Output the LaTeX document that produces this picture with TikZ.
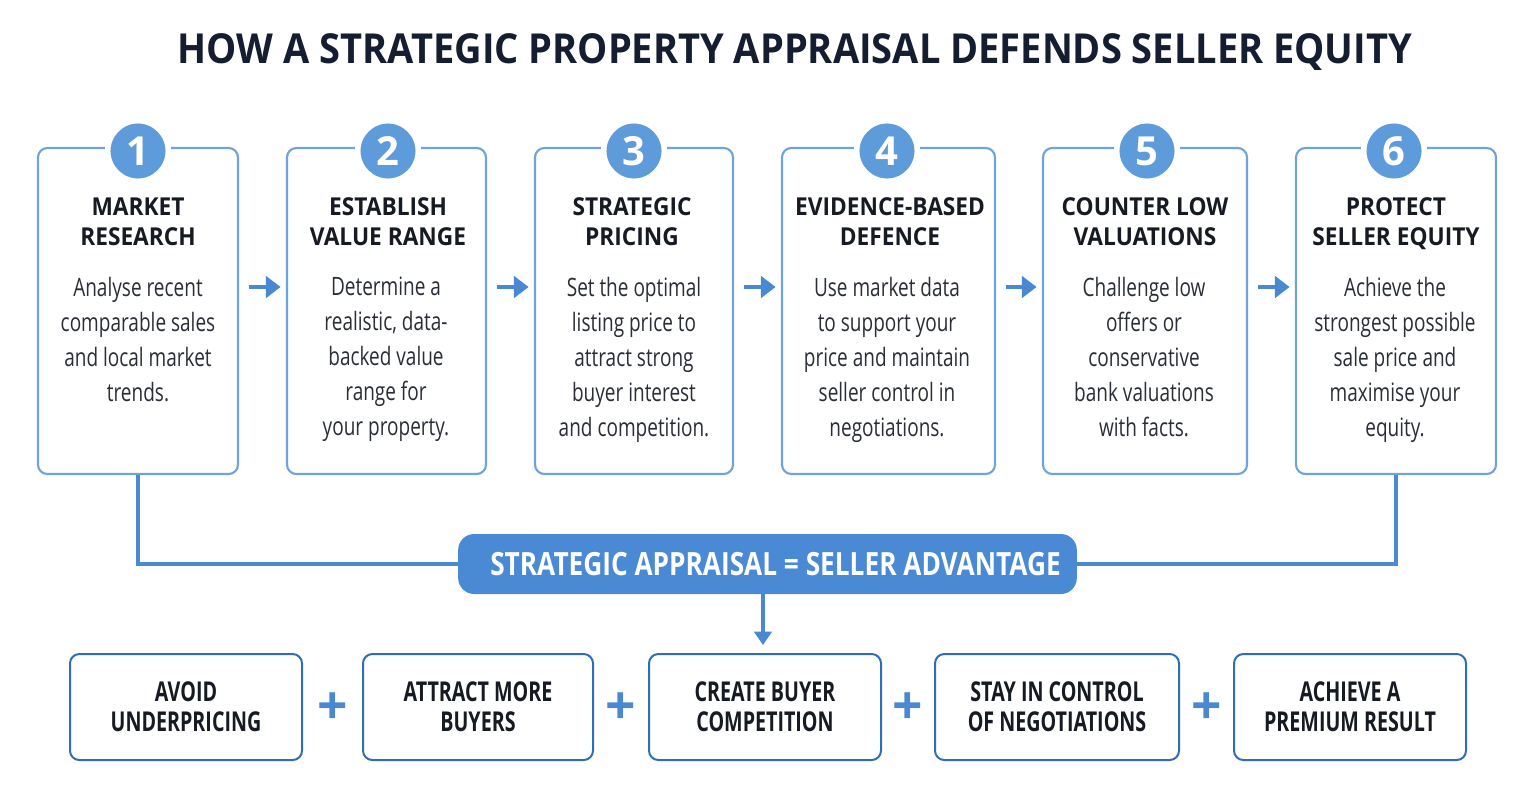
\documentclass[tikz,border=0pt]{standalone}
\usepackage{fontspec}
\setmainfont{Open Sans}
\newfontfamily\titlef[FakeStretch=0.92]{Open Sans}
\newfontfamily\headf[FakeStretch=0.92]{Open Sans}
\newfontfamily\numf{Open Sans}
\newfontfamily\bodyf[FakeStretch=0.75]{Open Sans}
\newfontfamily\condf[FakeStretch=0.72]{Open Sans}
\newfontfamily\bannerf[FakeStretch=0.82]{Open Sans}
\usetikzlibrary{arrows.meta,calc}
\definecolor{boxblue}{HTML}{6FA3DC}
\definecolor{circblue}{HTML}{5E9BDB}
\definecolor{arrblue}{HTML}{4A89D2}
\definecolor{bannerblue}{HTML}{4A8AD4}
\definecolor{darkblue}{HTML}{2F6DB4}
\definecolor{titlecol}{HTML}{151D30}
\definecolor{headcol}{HTML}{161A22}
\definecolor{bodycol}{HTML}{2A2E36}
\tikzset{
  topbox/.style={draw=boxblue, line width=1.6pt, rounded corners=7pt, fill=white, minimum height=244.5pt, inner sep=0pt},
  numc/.style={circle, fill=circblue, draw=white, line width=4.1pt, minimum size=45.4pt, inner sep=0pt, text=white, font=\numf\bfseries\fontsize{30}{30}\selectfont},
  ttl/.style={align=center, inner sep=0pt, anchor=north, text=headcol, font=\headf\bfseries\fontsize{18.5}{22.5}\selectfont},
  body/.style={align=center, inner sep=0pt, anchor=north, text=bodycol, font=\bodyf\fontsize{19}{26.25}\selectfont},
  arr/.style={draw=arrblue, line width=3pt, -{Triangle[length=11pt,width=16pt]}},
  conn/.style={draw=bannerblue, line width=2.4pt},
  banner/.style={fill=bannerblue, rounded corners=12pt, minimum width=464pt, minimum height=45pt, inner sep=0pt, text=white, font=\bannerf\bfseries\fontsize{24}{24}\selectfont},
  botbox/.style={draw=darkblue, line width=1.5pt, rounded corners=7pt, fill=white, minimum height=79.5pt, inner sep=0pt, align=center, text=headcol, font=\condf\bfseries\fontsize{20.5}{22.5}\selectfont},
  plus/.style={inner sep=0pt, text=arrblue, font=\numf\bfseries\fontsize{40}{40}\selectfont}
}
\newcommand{\tstrut}{\vphantom{OS}}
\begin{document}
\begin{tikzpicture}[x=0.75pt,y=-0.75pt]
\useasboundingbox (0,0) rectangle (1534,800);
\fill[white] (0,0) rectangle (1534,800);
% title
\node[inner sep=0pt, text=titlecol, font=\titlef\bfseries\fontsize{31}{31}\selectfont] (title) at (795,52) {HOW A STRATEGIC PROPERTY APPRAISAL DEFENDS SELLER EQUITY};
% top boxes
\node[topbox, minimum width=150pt] (b1) at (138,311) {};
\node[topbox, minimum width=149.25pt] (b2) at (386.5,311) {};
\node[topbox, minimum width=148.5pt] (b3) at (634,311) {};
\node[topbox, minimum width=159.75pt] (b4) at (888.5,311) {};
\node[topbox, minimum width=153pt] (b5) at (1145,311) {};
\node[topbox, minimum width=150pt] (b6) at (1396,311) {};
% numbers
\node[numc] (n1) at (138,151) {1};
\node[numc] (n2) at (388,151) {2};
\node[numc] (n3) at (634,151) {3};
\node[numc] (n4) at (887,151) {4};
\node[numc] (n5) at (1147,151) {5};
\node[numc] (n6) at (1394,151) {6};
% titles
\node[ttl] (t1) at (138,197) {\tstrut MARKET\\RESEARCH};
\node[ttl] (t2) at (388,197) {\tstrut ESTABLISH\\VALUE RANGE};
\node[ttl] (t3) at (632,197) {\tstrut STRATEGIC\\PRICING};
\node[ttl] (t4) at (890,197) {\tstrut EVIDENCE-BASED\\DEFENCE};
\node[ttl] (t5) at (1145,197) {\tstrut COUNTER LOW\\VALUATIONS};
\node[ttl] (t6) at (1396,197) {\tstrut PROTECT\\SELLER EQUITY};
% body
\node[body] (d1) at (138,277) {Analyse recent\\comparable sales\\and local market\\trends.};
\node[body] (d2) at (386,277) {Determine a\\realistic, data-\\backed value\\range for\\your property.};
\node[body] (d3) at (634,277) {Set the optimal\\listing price to\\attract strong\\buyer interest\\and competition.};
\node[body] (d4) at (887,277) {Use market data\\to support your\\price and maintain\\seller control in\\negotiations.};
\node[body] (d5) at (1144,277) {Challenge low\\offers or\\conservative\\bank valuations\\with facts.};
\node[body] (d6) at (1395,277) {Achieve the\\strongest possible\\sale price and\\maximise your\\equity.};
% arrows between
\foreach \a/\b in {b1/b2,b2/b3,b3/b4,b4/b5,b5/b6}{
  \draw[arr] ([xshift=7.5pt,yshift=18pt]\a.east) -- ([xshift=-4pt,yshift=18pt]\b.west);
}
% banner
\node[banner] (banner) at (767.5,564) {\hspace*{12pt}STRATEGIC APPRAISAL = SELLER ADVANTAGE};
\draw[conn] (b1.south) |- (banner.west);
\draw[conn] (b6.south) |- (banner.east);
% bottom boxes
\node[botbox, minimum width=174pt] (c1) at (186,707) {AVOID\\UNDERPRICING};
\node[botbox, minimum width=172.5pt] (c2) at (478,707) {ATTRACT MORE\\BUYERS};
\node[botbox, minimum width=174pt] (c3) at (765,707) {CREATE BUYER\\COMPETITION};
\node[botbox, minimum width=183pt] (c4) at (1057,707) {STAY IN CONTROL\\OF NEGOTIATIONS};
\node[botbox, minimum width=174pt] (c5) at (1350,707) {ACHIEVE A\\PREMIUM RESULT};
\draw[arr, line width=2.4pt, -{Triangle[length=10pt,width=13pt]}] ([xshift=-1.5pt]c3.north |- banner.south) -- ([xshift=-1.5pt,yshift=6pt]c3.north);
% plus signs
\node[plus] (p1) at (333,709) {+};
\node[plus] (p2) at (621,709) {+};
\node[plus] (p3) at (908,709) {+};
\node[plus] (p4) at (1207,709) {+};
\end{tikzpicture}
\end{document}
